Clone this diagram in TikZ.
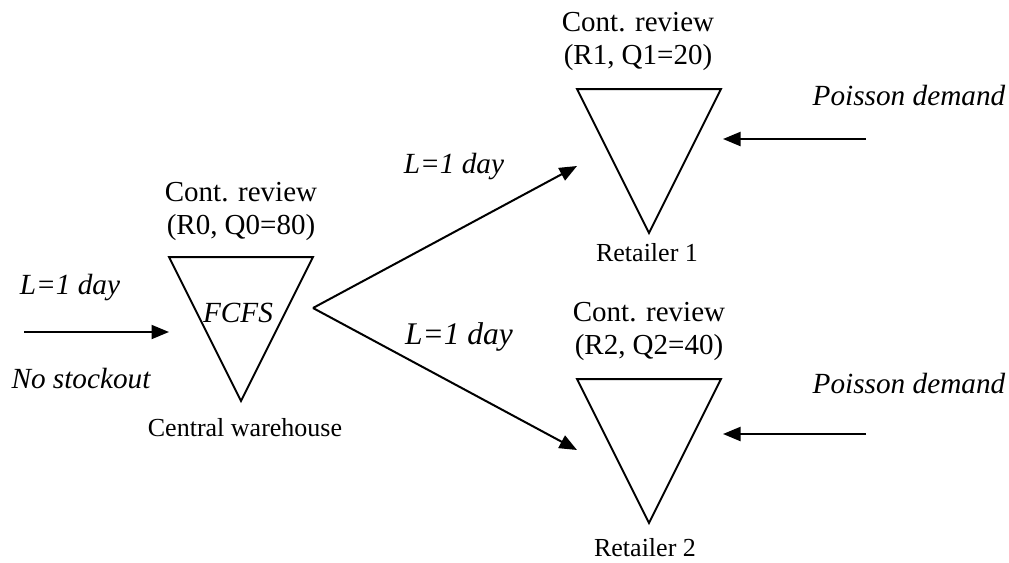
\documentclass[tikz,border=0pt]{standalone}
\usepackage{fontspec}
\setmainfont{Liberation Serif}
\usetikzlibrary{shapes.geometric, arrows.meta, positioning}

\begin{document}
\begin{tikzpicture}[
    x=0.4pt, y=-0.4pt,
    stock/.style={draw, line width=0.8pt, isosceles triangle, shape border rotate=-90,
                  isosceles triangle stretches, minimum width=57.6pt, minimum height=57.6pt,
                  inner sep=0pt, outer sep=0pt, anchor=apex},
    policy/.style={font=\fontsize{11.6}{13.2}\selectfont, align=center},
    site/.style={font=\fontsize{10.4}{12}\selectfont},
    flow/.style={font=\fontsize{11.7}{14}\selectfont\itshape},
    feed/.style={-{Triangle[length=7pt,width=5.6pt]}, line width=0.8pt}
]
    \useasboundingbox (0,0) rectangle (1009,562);

    % Stock points
    \node[stock] (cw) at (241,401) {};
    \node[stock] (ret1) at (649,233) {};
    \node[stock] (ret2) at (649,523) {};

    % Policies and names
    \node[policy] (cwpol) at (241,211) {Cont. review\\(R0, Q0=80)};
    \node[policy] (ret1pol) at (638,41) {Cont. review\\(R1, Q1=20)};
    \node[policy] (ret2pol) at (649,331) {Cont. review\\(R2, Q2=40)};
    \node[flow] (fcfs) at (238,313) {FCFS};
    \node[site] (cwname) at (245,428) {Central warehouse};
    \node[site] (ret1name) at (647,253) {Retailer 1};
    \node[site] (ret2name) at (645,548) {Retailer 2};

    % Arrow ends
    \coordinate (supply) at (24,332);
    \coordinate (cwin) at (169,332);
    \coordinate (cwout) at (313,308);
    \coordinate (ret1in) at (577,166);
    \coordinate (ret2in) at (577,450);
    \coordinate (dem1) at (866,139);
    \coordinate (dem1in) at (723,139);
    \coordinate (dem2) at (866,434);
    \coordinate (dem2in) at (723,434);

    % Flows
    \draw[feed] (supply) -- (cwin);
    \draw[feed] (cwout) -- (ret1in);
    \draw[feed] (cwout) -- (ret2in);
    \draw[feed] (dem1) -- (dem1in);
    \draw[feed] (dem2) -- (dem2in);

    % Flow labels
    \node[flow] (supplylt) at (70,288) {L=1 day};
    \node[flow] (nostock) at (81,379) {No stockout};
    \node[flow] (lt1) at (454,167) {L=1 day};
    \node[flow, font=\fontsize{12.6}{14}\selectfont\itshape] (lt2) at (459,337) {L=1 day};
    \node[flow] (poisson1) at (909,95) {Poisson demand};
    \node[flow] (poisson2) at (909,383) {Poisson demand};
\end{tikzpicture}
\end{document}
